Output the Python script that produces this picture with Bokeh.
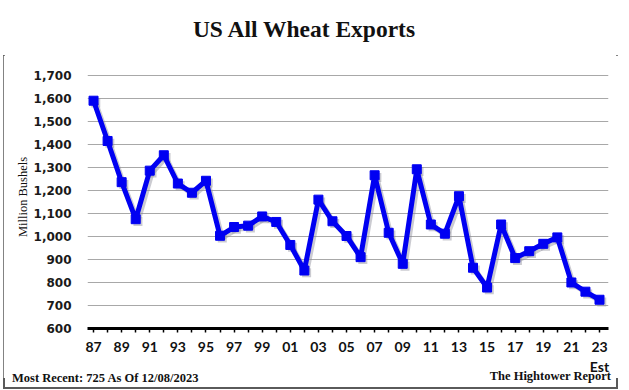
from bokeh.plotting import figure
from bokeh.models import Range1d, FixedTicker, NumeralTickFormatter, ColumnDataSource, Div
from bokeh.layouts import column
from bokeh.transform import dodge
from bokeh.embed import file_html
from bokeh.resources import INLINE

years = list(range(1987, 2024))
exports = [1590, 1415, 1236, 1075, 1286, 1353, 1230, 1190, 1242, 1003,
           1041, 1047, 1087, 1063, 963, 852, 1160, 1066, 1002, 910,
           1266, 1016, 881, 1292, 1052, 1012, 1175, 864, 778, 1052,
           906, 936, 968, 996, 800, 760, 725]
label_years = [1987, 1989, 1991, 1993, 1995, 1997, 1999, 2001, 2003, 2005,
               2007, 2009, 2011, 2013, 2015, 2017, 2019, 2021, 2023]
x_tick_labels = ["87", "89", "91", "93", "95", "97", "99", "01", "03", "05",
                 "07", "09", "11", "13", "15", "17", "19", "21", "23\nEst"]
y_ticks = [600, 700, 800, 900, 1000, 1100, 1200, 1300, 1400, 1500, 1600, 1700]

title_text = "US All Wheat Exports"
y_label = "Million Bushels"
footer_left = "Most Recent: 725 As Of 12/08/2023"
footer_right = "The Hightower Report"

src = ColumnDataSource(dict(x=years, y=exports))

p = figure(width=615, height=323,
           x_range=Range1d(1986.57, 2023.64), y_range=Range1d(600, 1743),
           output_backend="svg", toolbar_location=None,
           min_border_left=84, min_border_right=10, min_border_top=10, min_border_bottom=50)
p.title.visible = False
p.outline_line_color = None
p.background_fill_color = "white"
p.border_fill_color = "white"

# grid
p.xgrid.visible = False
p.ygrid.ticker = FixedTicker(ticks=y_ticks)
p.ygrid.grid_line_color = "#a8a8a8"
p.ygrid.grid_line_width = 1

# y axis
p.yaxis.ticker = FixedTicker(ticks=y_ticks)
p.yaxis.formatter = NumeralTickFormatter(format="0,0")
p.yaxis.axis_line_color = None
p.yaxis.major_tick_line_color = None
p.yaxis.minor_tick_line_color = None
p.yaxis.major_tick_out = 0
p.yaxis.major_tick_in = 0
p.yaxis.major_label_standoff = 16
p.yaxis.major_label_text_font = "DejaVu Sans"
p.yaxis.major_label_text_font_size = "12px"
p.yaxis.major_label_text_font_style = "bold"
p.yaxis.major_label_text_color = "#1a1a1a"
p.yaxis.axis_label = y_label
p.yaxis.axis_label_text_font = "Liberation Serif"
p.yaxis.axis_label_text_font_size = "12.5px"
p.yaxis.axis_label_text_font_style = "normal"
p.yaxis.axis_label_text_color = "#111111"
p.yaxis.axis_label_standoff = 1

# x axis
overrides = {yr: "" for yr in years}
for yr, lab in zip(label_years, x_tick_labels):
    overrides[yr] = lab
p.xaxis.ticker = FixedTicker(ticks=years)
p.xaxis.major_label_overrides = overrides
p.xaxis.axis_line_color = "black"
p.xaxis.axis_line_width = 3
p.xaxis.major_tick_line_color = "black"
p.xaxis.major_tick_line_width = 1.5
p.xaxis.major_tick_out = 4
p.xaxis.major_tick_in = 0
p.xaxis.minor_tick_line_color = None
p.xaxis.major_label_standoff = 5
p.xaxis.major_label_text_font = "Lato"
p.xaxis.major_label_text_font_size = "14px"
p.xaxis.major_label_text_font_style = "bold"
p.xaxis.major_label_text_color = "#111111"

# shadow
p.line(x=dodge("x", 0.16, range=p.x_range), y=dodge("y", -10, range=p.y_range), source=src,
       line_color="#8c8c9a", line_alpha=0.45, line_width=5)
p.scatter(x=dodge("x", 0.16, range=p.x_range), y=dodge("y", -10, range=p.y_range), source=src,
          marker="square", size=9, fill_color="#8c8c9a", fill_alpha=0.45, line_color=None)
# main series
p.line(x="x", y="y", source=src, line_color="#0000f2", line_width=5, line_join="round")
p.scatter(x="x", y="y", source=src, marker="square", size=9,
          fill_color="#0000f2", line_color="#0000f2")

title_html = (
    '<div style="width:602px;height:55px;text-align:center;padding-top:15px;box-sizing:border-box;'
    'font-family:\'Liberation Serif\';font-weight:bold;font-size:23.5px;line-height:28px;'
    f'color:#111111;">{title_text}</div>'
)
title_div = Div(text=title_html, width=615, height=55, margin=(0, 0, 0, 0),
                styles={"background-color": "white"})

footer_html = (
    '<div style="position:relative;width:615px;height:11px;font-family:\'Liberation Serif\';'
    'font-weight:bold;font-size:12.5px;line-height:12px;color:#111111;white-space:nowrap;">'
    f'<span style="position:absolute;left:9px;top:-7px;">{footer_left}</span>'
    f'<span style="position:absolute;left:0px;width:608px;text-align:right;top:-9px;">{footer_right}</span>'
    '</div>'
)
footer = Div(text=footer_html, width=615, height=11, margin=(0, 0, 0, 0))

layout = column(title_div, p, footer, spacing=0,
                styles={"position": "absolute", "left": "3px", "top": "0px",
                        "outline": "2px solid #5a5a5a", "outline-offset": "-2px",
                        "background-color": "white"})

open("out.html", "w").write(file_html(layout, INLINE))
